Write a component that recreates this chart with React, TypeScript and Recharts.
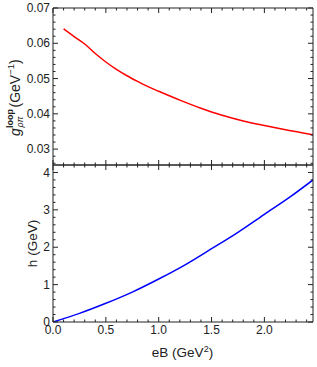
import React from "react";
import { LineChart, Line, XAxis, YAxis } from "recharts";

// ---- data ----
const eBTop = [0.1, 0.2, 0.3, 0.4, 0.5, 0.6, 0.7, 0.8, 0.9, 1.0, 1.2, 1.4, 1.6, 1.8, 2.0, 2.2, 2.46];
const gLoop = [0.0641, 0.0619, 0.0598, 0.0571, 0.0547, 0.0526, 0.0508, 0.0492, 0.0477, 0.0464, 0.0439, 0.0416, 0.0396, 0.038, 0.0367, 0.0355, 0.0341];

const eBBottom = [0, 0.25, 0.5, 0.75, 1.0, 1.25, 1.5, 1.75, 2.0, 2.25, 2.46];
const hVals = [0, 0.23, 0.5, 0.8, 1.15, 1.53, 1.96, 2.4, 2.88, 3.36, 3.8];

const xTicks = [0, 0.1, 0.2, 0.3, 0.4, 0.5, 0.6, 0.7, 0.8, 0.9, 1.0, 1.1, 1.2, 1.3, 1.4, 1.5, 1.6, 1.7, 1.8, 1.9, 2.0, 2.1, 2.2, 2.3, 2.4];
const yTopTicks = [0.026, 0.028, 0.03, 0.032, 0.034, 0.036, 0.038, 0.04, 0.042, 0.044, 0.046, 0.048, 0.05, 0.052, 0.054, 0.056, 0.058, 0.06, 0.062, 0.064, 0.066, 0.068, 0.07];
const yBottomTicks = [0, 0.2, 0.4, 0.6, 0.8, 1, 1.2, 1.4, 1.6, 1.8, 2, 2.2, 2.4, 2.6, 2.8, 3, 3.2, 3.4, 3.6, 3.8, 4];

const xDomain = [0, 2.46];
const yTopDomain = [0.0255, 0.07];
const yBottomDomain = [0, 4.2];

const topData = eBTop.map((x, i) => ({ eB: x, g: gLoop[i] }));
const bottomData = eBBottom.map((x, i) => ({ eB: x, h: hVals[i] }));

// ---- styling ----
const FRAME = "#222";
const TEXT = "#222";
const FONT = "'Liberation Sans', Arial, sans-serif";

const isMultiple = (v: number, step: number) => Math.abs(v / step - Math.round(v / step)) < 1e-6;

type TickOpts = { axis: "x" | "y"; dir: 1 | -1; step: number; fmt?: (v: number) => string };

const makeTick = (o: TickOpts) => (props: any) => {
  const { x, y, payload } = props;
  const v = Number(payload.value);
  const major = isMultiple(v, o.step);
  const len = major ? 5 : 2.5;
  if (o.axis === "x") {
    return (
      <g>
        <line x1={x} y1={y} x2={x} y2={y + o.dir * len} stroke={FRAME} strokeWidth={1} />
        {o.fmt && major ? (
          <text x={x} y={y + 12} textAnchor="middle" fontSize={12} fontFamily={FONT} fill={TEXT}>
            {o.fmt(v)}
          </text>
        ) : null}
      </g>
    );
  }
  return (
    <g>
      <line x1={x} y1={y} x2={x + o.dir * len} y2={y} stroke={FRAME} strokeWidth={1} />
      {o.fmt && major ? (
        <text x={x - 3} y={y + 4.2} textAnchor="end" fontSize={12} fontFamily={FONT} fill={TEXT}>
          {o.fmt(v)}
        </text>
      ) : null}
    </g>
  );
};

const axisCommon = {
  type: "number" as const,
  allowDataOverflow: true,
  tickLine: false,
  tickSize: 0,
  tickMargin: 0,
  interval: 0 as const,
  axisLine: { stroke: FRAME, strokeWidth: 1 },
};

export default function App() {
  return (
    <div style={{ position: "absolute", left: 0, top: 0, width: 317, height: 367 }}>
      <div style={{ position: "absolute", left: 0, top: 0 }}>
        <LineChart width={317} height={168} data={topData} margin={{ top: 0, right: 0, bottom: 0, left: 0 }}>
          <XAxis {...axisCommon} xAxisId="b" dataKey="eB" domain={xDomain} ticks={xTicks} orientation="bottom" height={3} tick={makeTick({ axis: "x", dir: -1, step: 0.5 })} />
          <XAxis {...axisCommon} xAxisId="t" dataKey="eB" domain={xDomain} ticks={xTicks} orientation="top" height={8} tick={makeTick({ axis: "x", dir: 1, step: 0.5 })} />
          <YAxis {...axisCommon} yAxisId="l" domain={yTopDomain} ticks={yTopTicks} orientation="left" width={53} tick={makeTick({ axis: "y", dir: 1, step: 0.01, fmt: (v) => v.toFixed(2) })} />
          <YAxis {...axisCommon} yAxisId="r" domain={yTopDomain} ticks={yTopTicks} orientation="right" width={4} tick={makeTick({ axis: "y", dir: -1, step: 0.01 })} />
          <Line xAxisId="b" yAxisId="l" dataKey="g" type="monotone" stroke="#ff0000" strokeWidth={1.5} dot={false} isAnimationActive={false} />
        </LineChart>
      </div>
      <div style={{ position: "absolute", left: 0, top: 157 }}>
        <LineChart width={317} height={210} data={bottomData} margin={{ top: 0, right: 0, bottom: 0, left: 0 }}>
          <XAxis {...axisCommon} xAxisId="b" dataKey="eB" domain={xDomain} ticks={xTicks} orientation="bottom" height={45} tick={makeTick({ axis: "x", dir: -1, step: 0.5, fmt: (v) => v.toFixed(1) })} />
          <XAxis {...axisCommon} xAxisId="t" dataKey="eB" domain={xDomain} ticks={xTicks} orientation="top" height={8} tick={makeTick({ axis: "x", dir: 1, step: 0.5 })} />
          <YAxis {...axisCommon} yAxisId="l" domain={yBottomDomain} ticks={yBottomTicks} orientation="left" width={53} tick={makeTick({ axis: "y", dir: 1, step: 1, fmt: (v) => String(Math.round(v)) })} />
          <YAxis {...axisCommon} yAxisId="r" domain={yBottomDomain} ticks={yBottomTicks} orientation="right" width={4} tick={makeTick({ axis: "y", dir: -1, step: 1 })} />
          <Line xAxisId="b" yAxisId="l" dataKey="h" type="monotone" stroke="#0000ff" strokeWidth={1.5} dot={false} isAnimationActive={false} />
        </LineChart>
      </div>
      <svg width={317} height={367} style={{ position: "absolute", left: 0, top: 0, pointerEvents: "none" }}>
        <g transform="translate(19.5,136) rotate(-90)" fontFamily={FONT} fill={TEXT}>
          <text x={0} y={0} fontSize={14} fontStyle="italic">g</text>
          <text x={8} y={-6.5} fontSize={9} fontWeight="bold">loop</text>
          <text x={8.5} y={3.5} fontSize={9} fontStyle="italic">ρπ</text>
          <text x={28.5} y={0} fontSize={14}>
            (GeV
            <tspan fontSize={9.5} dy={-5.5}>−1</tspan>
            <tspan dy={5.5}>)</tspan>
          </text>
        </g>
        <text x={0} y={0} transform="translate(36.5,243.5) rotate(-90)" textAnchor="middle" fontSize={13.5} fontFamily={FONT} fill={TEXT}>
          h (GeV)
        </text>
        <text x={182.5} y={357} textAnchor="middle" fontSize={13.5} fontFamily={FONT} fill={TEXT}>
          eB (GeV
          <tspan fontSize={9} dy={-5.5}>2</tspan>
          <tspan dy={5.5}>)</tspan>
        </text>
      </svg>
    </div>
  );
}
